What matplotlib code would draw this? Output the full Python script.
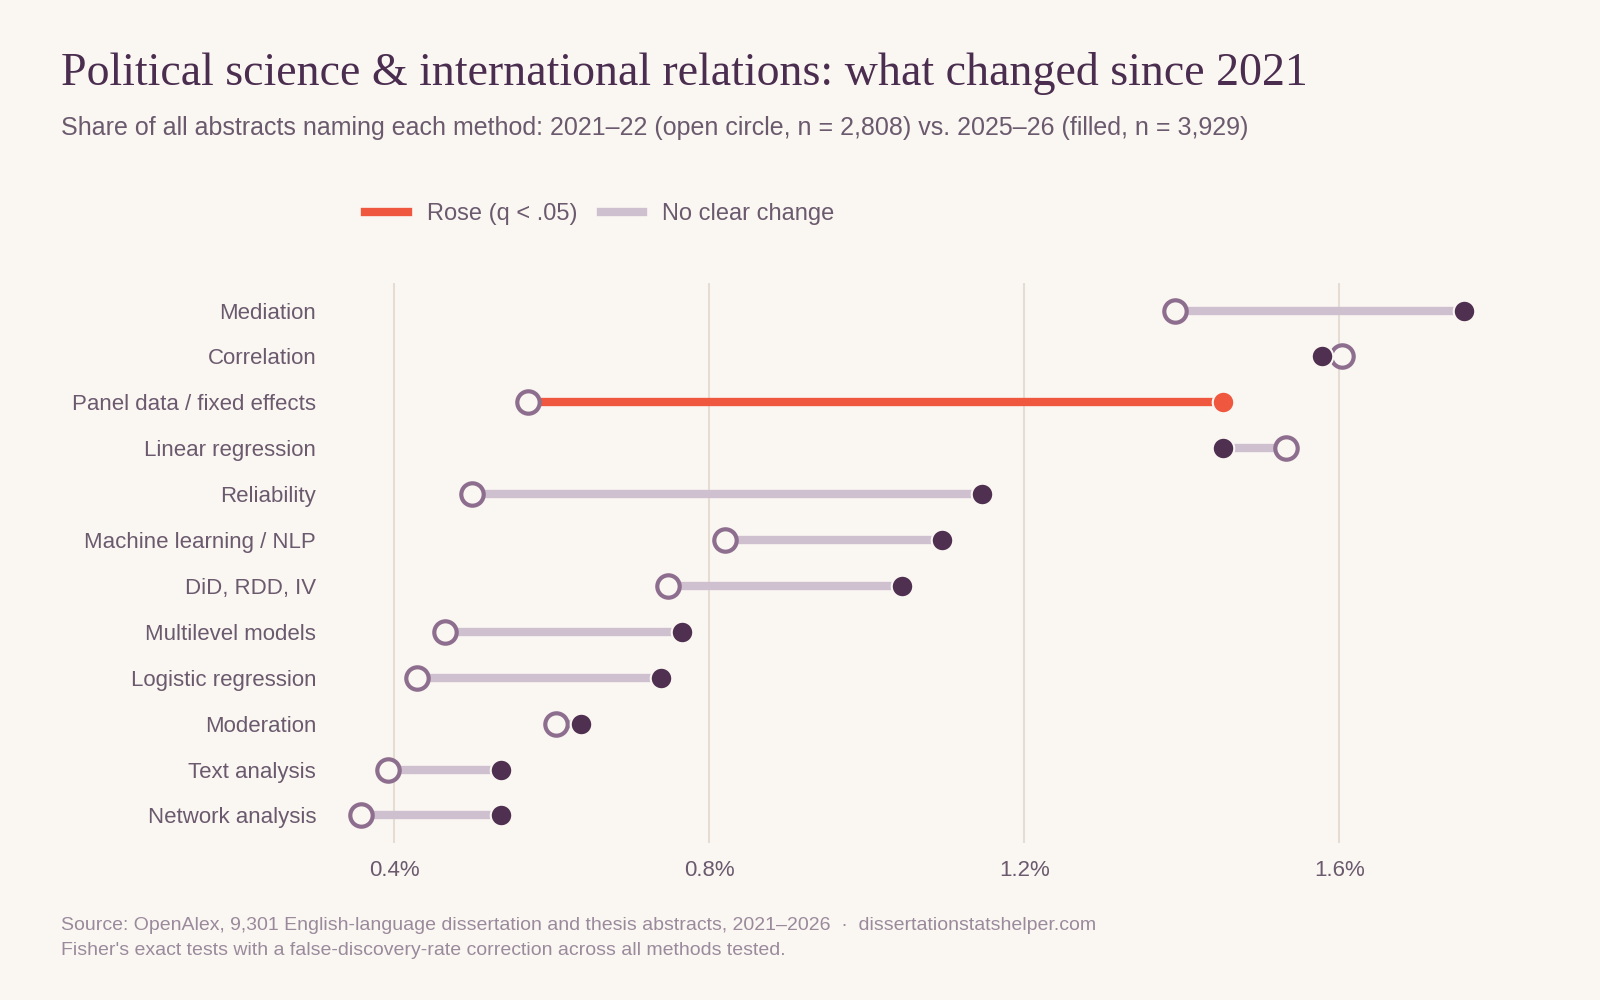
import matplotlib
matplotlib.use("Agg")
from matplotlib import pyplot as plt
from matplotlib.lines import Line2D

plt.rcParams["font.family"] = ["Liberation Sans", "DejaVu Sans"]

methods = ["Mediation", "Correlation", "Panel data / fixed effects", "Linear regression",
           "Reliability", "Machine learning / NLP", "DiD, RDD, IV", "Multilevel models",
           "Logistic regression", "Moderation", "Text analysis", "Network analysis"]
share_2021 = [1.391, 1.604, 0.570, 1.533, 0.499, 0.820, 0.748, 0.464, 0.429, 0.605, 0.392, 0.357]
share_2025 = [1.758, 1.578, 1.452, 1.452, 1.146, 1.096, 1.045, 0.765, 0.739, 0.637, 0.535, 0.535]
rose = [False, False, True, False, False, False, False, False, False, False, False, False]
ticks = [0.4, 0.8, 1.2, 1.6]

bg = "#faf7f2"
dark = "#4f3050"
open_edge = "#8e6e8e"
red = "#f0573f"
grey = "#cfc0cf"
text_c = "#6b5a6e"

fig = plt.figure(figsize=(16, 10), dpi=100, facecolor=bg)
ax = fig.add_axes([0.215, 0.157, 0.717, 0.56], facecolor=bg)

n = len(methods)
for i, (m, a, b, r) in enumerate(zip(methods, share_2021, share_2025, rose)):
    y = n - 1 - i
    ax.plot([a, b], [y, y], color=red if r else grey, lw=6, solid_capstyle="butt", zorder=2)
    ax.scatter([a], [y], s=260, facecolor=bg, edgecolor=open_edge, linewidth=3, zorder=3)
    ax.scatter([b], [y], s=240, facecolor=red if r else dark, edgecolor=bg, linewidth=1.5, zorder=4)

ax.set_xlim(0.336, 1.793)
ax.set_ylim(-0.6, n - 0.4)
ax.set_yticks(range(n))
ax.set_yticklabels(methods[::-1], fontsize=16, color=text_c)
ax.set_xticks(ticks)
ax.set_xticklabels([f"{t:.1f}%" for t in ticks], fontsize=16, color=text_c)
ax.tick_params(length=0, pad=12)
ax.tick_params(axis="y", pad=20)
for t in ticks:
    ax.axvline(t, color="#e5ddd3", lw=1.5, zorder=1)
for s in ax.spines.values():
    s.set_visible(False)

fig.text(0.038, 0.915, "Political science & international relations: what changed since 2021",
         fontsize=33, color="#4a2d4f", family="Liberation Serif", va="baseline")
fig.text(0.038, 0.865, "Share of all abstracts naming each method: 2021\u201322 (open circle, n = 2,808) vs. 2025\u201326 (filled, n = 3,929)",
         fontsize=18, color=text_c, va="baseline")

handles = [Line2D([0], [0], color=red, lw=6), Line2D([0], [0], color=grey, lw=6)]
fig.legend(handles, ["Rose (q < .05)", "No clear change"], loc="center left",
           bbox_to_anchor=(0.215, 0.786), frameon=False, ncol=2, fontsize=17,
           handlelength=1.8, columnspacing=1.0, labelcolor=text_c)

fig.text(0.038, 0.07, "Source: OpenAlex, 9,301 English-language dissertation and thesis abstracts, 2021\u20132026  \u00b7  dissertationstatshelper.com",
         fontsize=14, color="#9a8a9c")
fig.text(0.038, 0.045, "Fisher's exact tests with a false-discovery-rate correction across all methods tested.",
         fontsize=14, color="#9a8a9c")

fig.savefig("out.png", facecolor=bg)
